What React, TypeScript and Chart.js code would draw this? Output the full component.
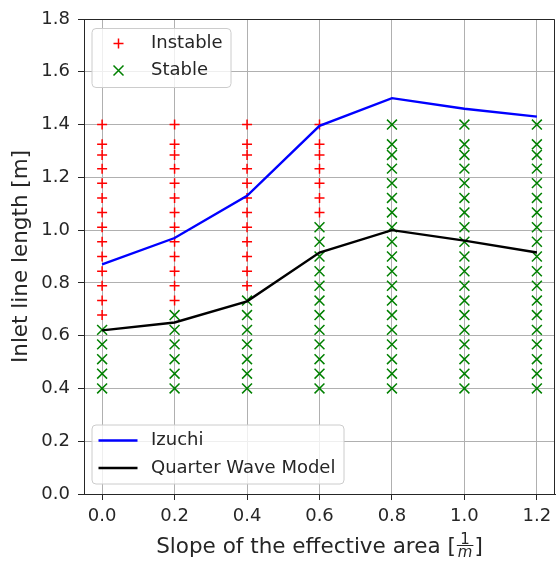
import React, { useEffect, useRef } from "react";
import { Chart, registerables } from "chart.js";

Chart.register(...registerables);

// ---- data ----
const slopes = [0.0, 0.2, 0.4, 0.6, 0.8, 1.0, 1.2];
const testedLengths = [1.4, 1.325, 1.285, 1.233, 1.178, 1.122, 1.067, 1.011, 0.956, 0.9, 0.844, 0.789, 0.733, 0.678, 0.622, 0.567, 0.511, 0.456, 0.4];
// number of tested lengths (from the top of the list) that were instable, per slope
const instableCount = [14, 13, 12, 7, 0, 0, 0];
const izuchi = [0.87, 0.97, 1.13, 1.395, 1.5, 1.46, 1.43];
const quarterWave = [0.62, 0.65, 0.73, 0.915, 1.0, 0.96, 0.915];
const xTicks = [0.0, 0.2, 0.4, 0.6, 0.8, 1.0, 1.2];
const yTicks = [0.0, 0.2, 0.4, 0.6, 0.8, 1.0, 1.2, 1.4, 1.6, 1.8];

const FAMILY = "'DejaVu Sans', sans-serif";
const TEXT = "#262626";

function drawBox(ctx: CanvasRenderingContext2D, x: number, y: number, w: number, h: number) {
  ctx.save();
  ctx.beginPath();
  (ctx as any).roundRect(x, y, w, h, 4);
  ctx.fillStyle = "rgba(255,255,255,0.8)";
  ctx.fill();
  ctx.strokeStyle = "#cccccc";
  ctx.lineWidth = 1;
  ctx.stroke();
  ctx.restore();
}

const decorPlugin = {
  id: "decor",
  afterDraw(chart: any) {
    const ctx: CanvasRenderingContext2D = chart.ctx;
    const a = chart.chartArea;
    ctx.save();
    // top & right spines
    ctx.strokeStyle = TEXT;
    ctx.lineWidth = 1;
    ctx.beginPath();
    ctx.moveTo(Math.round(a.left) + 0.5, Math.round(a.top) + 0.5);
    ctx.lineTo(Math.round(a.right) - 0.5, Math.round(a.top) + 0.5);
    ctx.lineTo(Math.round(a.right) - 0.5, Math.round(a.bottom) + 0.5);
    ctx.stroke();

    // legend 1 (markers)
    const l1x = a.left + 8, l1y = a.top + 9.5;
    drawBox(ctx, l1x, l1y, 139, 59);
    ctx.font = `18px ${FAMILY}`;
    ctx.fillStyle = TEXT;
    ctx.textBaseline = "middle";
    ctx.textAlign = "left";
    const r1 = l1y + 15, r2 = l1y + 42;
    ctx.strokeStyle = "#ff0000";
    ctx.lineWidth = 1.5;
    ctx.beginPath();
    ctx.moveTo(l1x + 26.5 - 5, r1); ctx.lineTo(l1x + 26.5 + 5, r1);
    ctx.moveTo(l1x + 26.5, r1 - 5); ctx.lineTo(l1x + 26.5, r1 + 5);
    ctx.stroke();
    ctx.strokeStyle = "#008000";
    ctx.beginPath();
    ctx.moveTo(l1x + 26.5 - 5, r2 - 5); ctx.lineTo(l1x + 26.5 + 5, r2 + 5);
    ctx.moveTo(l1x + 26.5 - 5, r2 + 5); ctx.lineTo(l1x + 26.5 + 5, r2 - 5);
    ctx.stroke();
    ctx.fillText("Instable", l1x + 59, r1);
    ctx.fillText("Stable", l1x + 59, r2);

    // legend 2 (lines)
    const l2x = a.left + 8, l2y = a.bottom - 10 - 59;
    drawBox(ctx, l2x, l2y, 252, 59);
    const s1 = l2y + 15.5, s2 = l2y + 43;
    ctx.lineWidth = 2.4;
    ctx.strokeStyle = "#0000ff";
    ctx.beginPath(); ctx.moveTo(l2x + 6.5, s1); ctx.lineTo(l2x + 45.5, s1); ctx.stroke();
    ctx.strokeStyle = "#000000";
    ctx.beginPath(); ctx.moveTo(l2x + 6.5, s2); ctx.lineTo(l2x + 45.5, s2); ctx.stroke();
    ctx.fillStyle = TEXT;
    ctx.fillText("Izuchi", l2x + 59, s1);
    ctx.fillText("Quarter Wave Model", l2x + 59, s2);

    // x axis title with fraction
    const main = "Slope of the effective area [";
    ctx.font = `21.5px ${FAMILY}`;
    const w1 = ctx.measureText(main).width;
    const wb = ctx.measureText("]").width;
    ctx.font = `italic 15px ${FAMILY}`;
    const wf = Math.max(ctx.measureText("1").width, ctx.measureText("m").width) + 4;
    const total = w1 + wf + wb;
    const cx = (a.left + a.right) / 2;
    const x0 = cx - total / 2;
    const base = 553;
    ctx.textBaseline = "alphabetic";
    ctx.textAlign = "left";
    ctx.font = `21.5px ${FAMILY}`;
    ctx.fillText(main, x0, base);
    const fx = x0 + w1;
    ctx.textAlign = "center";
    const barY = base - 7.5;
    ctx.font = `15px ${FAMILY}`;
    ctx.fillText("1", fx + wf / 2, barY - 2);
    ctx.font = `italic 15px ${FAMILY}`;
    ctx.fillText("m", fx + wf / 2, barY + 11);
    ctx.strokeStyle = TEXT;
    ctx.lineWidth = 1;
    ctx.beginPath(); ctx.moveTo(fx + 1, barY); ctx.lineTo(fx + wf - 1, barY); ctx.stroke();
    ctx.textAlign = "left";
    ctx.font = `21.5px ${FAMILY}`;
    ctx.fillText("]", fx + wf, base);

    // y axis title
    ctx.save();
    ctx.translate(21, (a.top + a.bottom) / 2);
    ctx.rotate(-Math.PI / 2);
    ctx.textAlign = "center";
    ctx.textBaseline = "middle";
    ctx.font = `21.5px ${FAMILY}`;
    ctx.fillStyle = TEXT;
    ctx.fillText("Inlet line length [m]", 0, 0);
    ctx.restore();

    ctx.restore();
  },
};

export default function App() {
  const ref = useRef<HTMLCanvasElement>(null);
  useEffect(() => {
    const instablePts: { x: number; y: number }[] = [];
    const stablePts: { x: number; y: number }[] = [];
    slopes.forEach((s, i) => {
      testedLengths.forEach((l, j) => {
        (j < instableCount[i] ? instablePts : stablePts).push({ x: s, y: l });
      });
    });
    const chart = new Chart(ref.current as HTMLCanvasElement, {
      type: "scatter",
      data: {
        datasets: [
          {
            label: "Izuchi",
            data: slopes.map((s, i) => ({ x: s, y: izuchi[i] })),
            showLine: true,
            borderColor: "#0000ff",
            backgroundColor: "#0000ff",
            borderWidth: 2.4,
            pointRadius: 0,
            order: 0,
          },
          {
            label: "Quarter Wave Model",
            data: slopes.map((s, i) => ({ x: s, y: quarterWave[i] })),
            showLine: true,
            borderColor: "#000000",
            backgroundColor: "#000000",
            borderWidth: 2.4,
            pointRadius: 0,
            order: 1,
          },
          {
            label: "Instable",
            data: instablePts,
            pointStyle: "cross",
            pointRadius: 5,
            borderColor: "#ff0000",
            backgroundColor: "#ff0000",
            borderWidth: 1.5,
            order: 2,
          },
          {
            label: "Stable",
            data: stablePts,
            pointStyle: "crossRot",
            pointRadius: 7,
            borderColor: "#008000",
            backgroundColor: "#008000",
            borderWidth: 1.5,
            order: 3,
          },
        ],
      },
      options: {
        animation: false,
        responsive: false,
        maintainAspectRatio: false,
        layout: { autoPadding: false, padding: { top: 19, right: 1, left: 0, bottom: 0 } },
        plugins: { legend: { display: false }, tooltip: { enabled: false } },
        scales: {
          x: {
            type: "linear",
            min: -0.05,
            max: 1.25,
            afterBuildTicks: (s: any) => {
              s.ticks = xTicks.map((v) => ({ value: v }));
            },
            afterFit: (s: any) => {
              s.height = 67;
              s.paddingLeft = 0;
              s.paddingRight = 0;
            },
            ticks: {
              callback: (v: any) => Number(v).toFixed(1),
              font: { family: FAMILY, size: 18 },
              color: TEXT,
              padding: 6,
              maxRotation: 0,
              autoSkip: false,
            },
            grid: { color: "#b0b0b0", lineWidth: 1, tickLength: 6, tickColor: TEXT },
            border: { color: TEXT, width: 1 },
          },
          y: {
            type: "linear",
            min: 0,
            max: 1.8,
            afterBuildTicks: (s: any) => {
              s.ticks = yTicks.map((v) => ({ value: v }));
            },
            afterFit: (s: any) => {
              s.width = 84;
              s.paddingTop = 0;
              s.paddingBottom = 0;
            },
            ticks: {
              callback: (v: any) => Number(v).toFixed(1),
              font: { family: FAMILY, size: 18 },
              color: TEXT,
              padding: 8,
              autoSkip: false,
            },
            grid: { color: "#b0b0b0", lineWidth: 1, tickLength: 6, tickColor: TEXT },
            border: { color: TEXT, width: 1 },
          },
        },
      },
      plugins: [decorPlugin],
    } as any);
    return () => chart.destroy();
  }, []);
  return (
    <div style={{ position: "fixed", left: 0, top: 0, width: 556, height: 561, background: "#fff" }}>
      <canvas ref={ref} width={556} height={561} style={{ display: "block" }} />
    </div>
  );
}
